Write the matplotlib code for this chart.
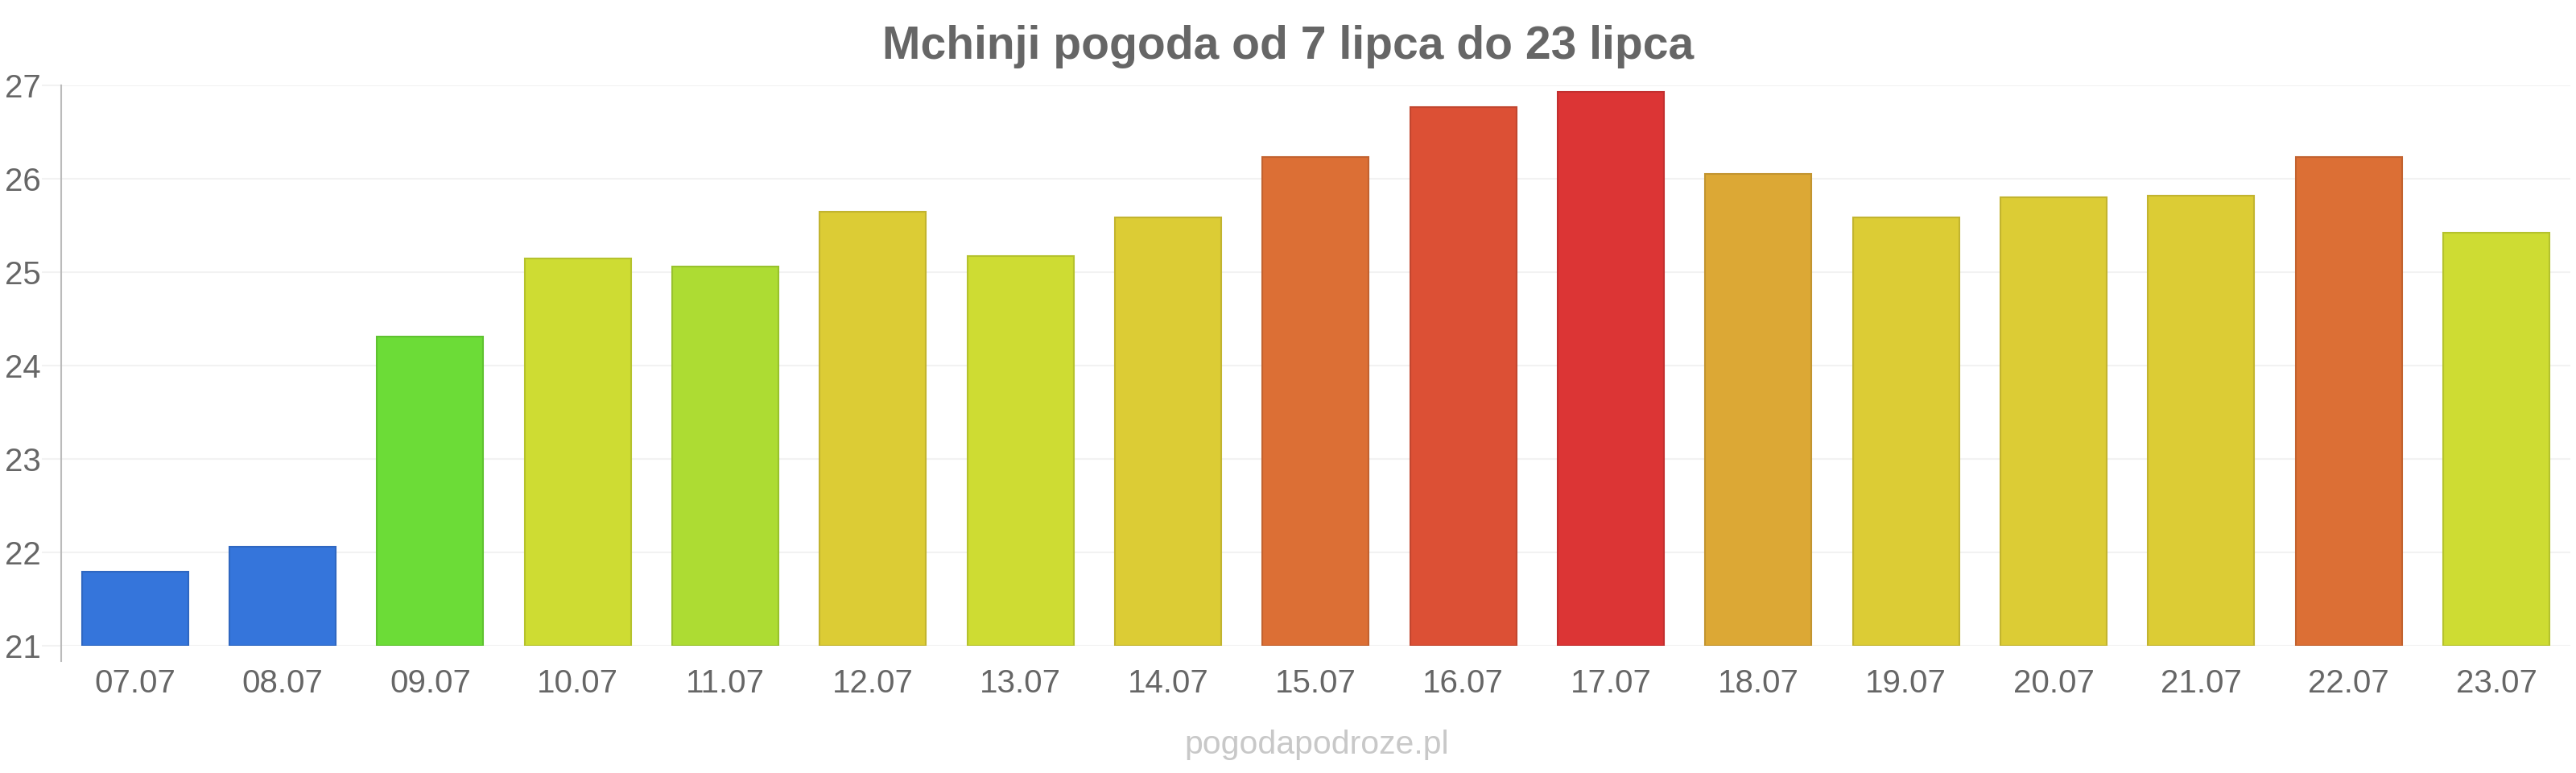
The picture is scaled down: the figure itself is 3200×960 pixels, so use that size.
import matplotlib
matplotlib.use("Agg")
import matplotlib.pyplot as plt

dates = ["07.07", "08.07", "09.07", "10.07", "11.07", "12.07", "13.07", "14.07", "15.07",
         "16.07", "17.07", "18.07", "19.07", "20.07", "21.07", "22.07", "23.07"]
temps = [21.79, 22.06, 24.31, 25.15, 25.06, 25.65, 25.17, 25.59, 26.23,
         26.77, 26.93, 26.05, 25.59, 25.80, 25.82, 26.23, 25.42]
colors = ["#3575DB", "#3575DB", "#6CDC37", "#CEDC33", "#ADDC33", "#DCCC35", "#CEDC33",
          "#DCCC35", "#DC6F35", "#DC5035", "#DC3535", "#DCA835", "#DCCC35", "#DCCC35",
          "#DCCC35", "#DC6F35", "#CEDC33"]
yticks = [21, 22, 23, 24, 25, 26, 27]
title = "Mchinji pogoda od 7 lipca do 23 lipca"
watermark = "pogodapodroze.pl"

plt.rcParams['font.family'] = ['Liberation Sans', 'DejaVu Sans']

def darker(hexc, f=0.88):
    r, g, b = matplotlib.colors.to_rgb(hexc)
    return (r * f, g * f, b * f)

fig = plt.figure(figsize=(32, 9.6), dpi=100)
ax = fig.add_axes([0.02375, 0.1646, 0.974, 0.725])

x = list(range(len(dates)))
ax.bar(x, [t - 21 for t in temps], bottom=21, width=0.72, color=colors,
       edgecolor=[darker(c) for c in colors], linewidth=1.5, zorder=3)

ax.set_xlim(-0.5, len(dates) - 0.5)
ax.set_ylim(21, 27)
ax.set_yticks(yticks)
ax.set_yticklabels([str(v) for v in yticks])
ax.set_xticks(x)
ax.set_xticklabels(dates)

for s in ax.spines.values():
    s.set_visible(False)
ax.plot([0, 0], [-0.027, 1.0], transform=ax.transAxes, color="#BBBBBB",
        linewidth=1.5, clip_on=False, zorder=4)

ax.grid(axis='y', color="#F2F2F2", linewidth=1.5, zorder=0)
ax.tick_params(axis='y', length=17, width=1.5, color="#F2F2F2", labelsize=29,
               labelcolor="#666666", pad=1)
ax.tick_params(axis='x', length=0, labelsize=29, labelcolor="#666666", pad=20)

fig.text(0.5, 0.94, title, ha='center', va='center', fontsize=41,
         fontweight='bold', color="#666666")
fig.text(0.511, 0.036, watermark, ha='center', va='center', fontsize=29.5,
         color="#C8C8C8")

fig.savefig("out.png", dpi=100, facecolor="white")
